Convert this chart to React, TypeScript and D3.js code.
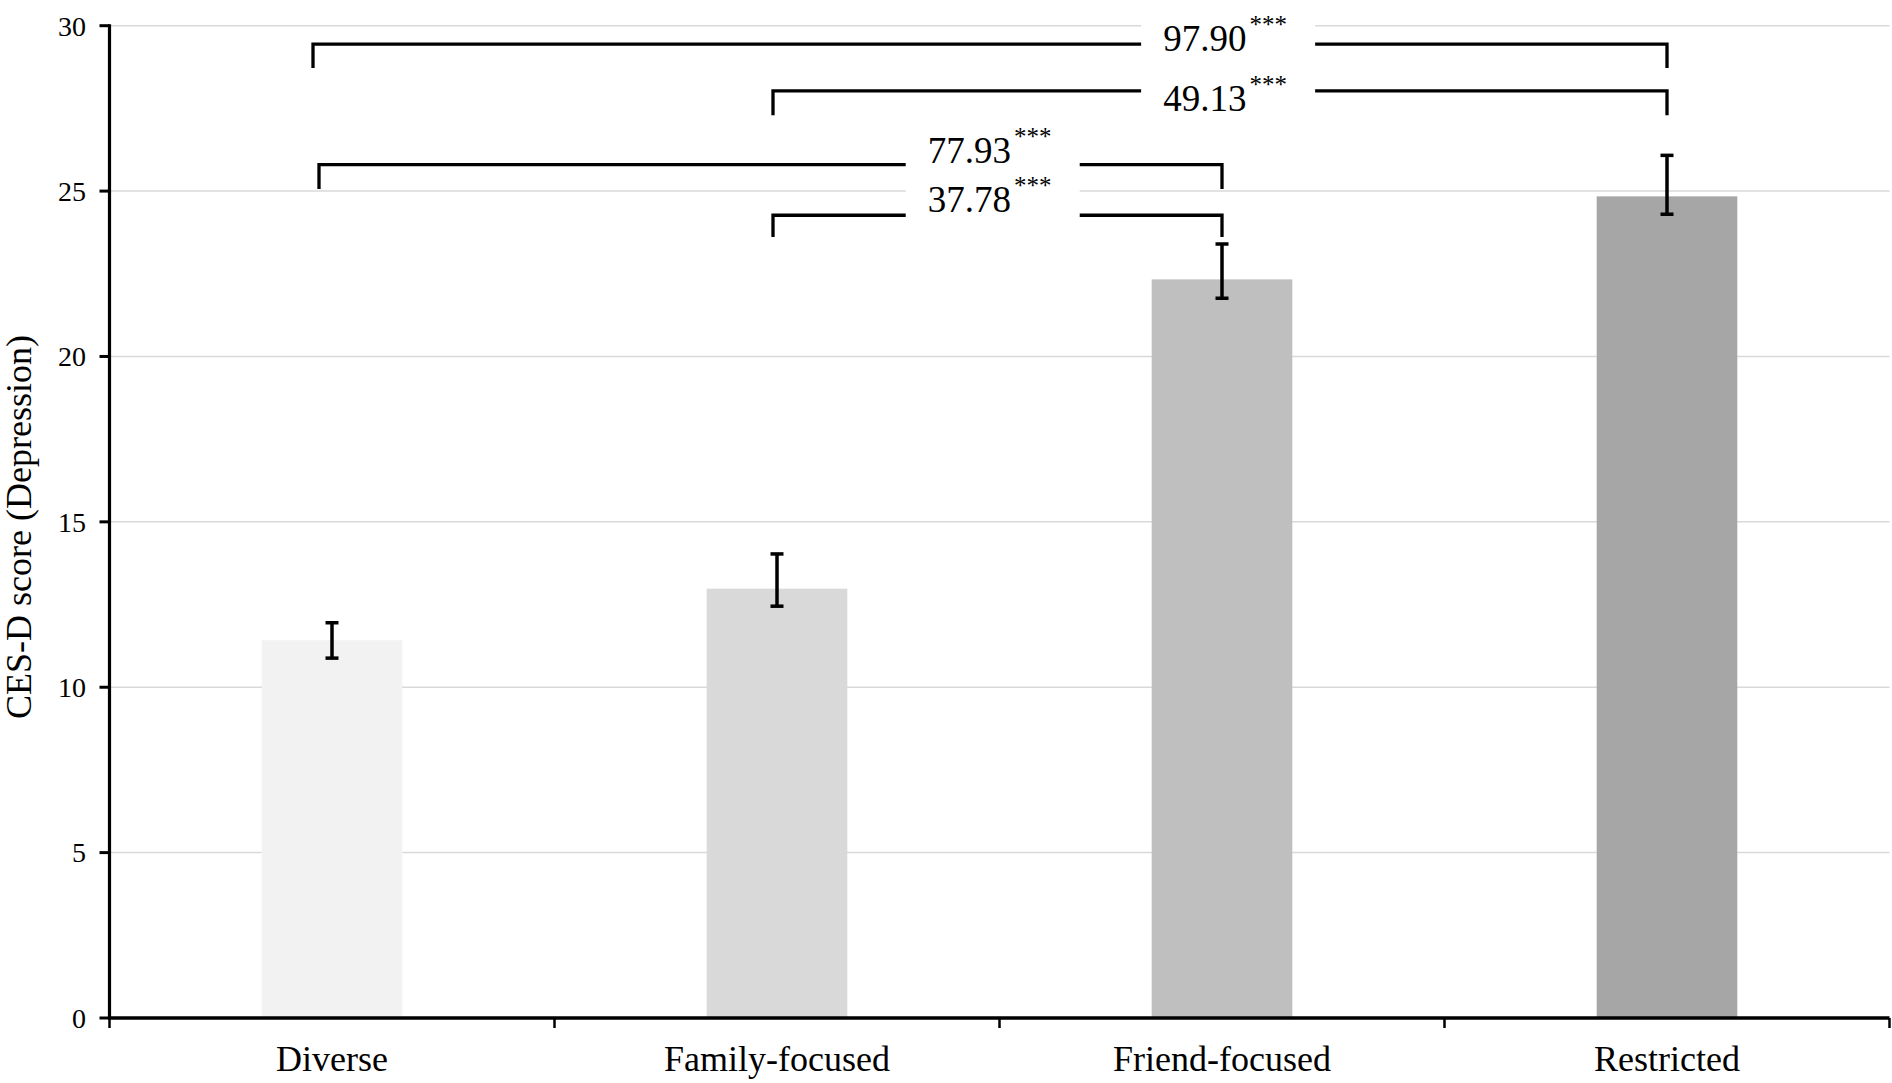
import React from "react"
import * as d3 from "d3"

// CES-D scores by network type
const categories = ["Diverse", "Family-focused", "Friend-focused", "Restricted"]
const means = [11.42, 12.98, 22.33, 24.84]
const ciUpper = [11.95, 14.03, 23.4, 26.08]
const ciLower = [10.88, 12.45, 21.76, 24.3]
const yTicks = [0, 5, 10, 15, 20, 25, 30]

// pairwise comparisons drawn as brackets above the bars
const compFrom = [0, 1, 0, 1]
const compTo = [3, 3, 2, 2]
const compLabels = ["97.90", "49.13", "77.93", "37.78"]
const compSig = ["***", "***", "***", "***"]
const compTop = [29.44, 28.03, 25.8, 24.27]
const compLegEnd = [28.72, 27.29, 25.06, 23.61]

const barFill = ["#f2f2f2", "#d9d9d9", "#bfbfbf", "#a6a6a6"]
const FONT = "'Liberation Serif', 'Times New Roman', serif"

export default function App() {
  const W = 1892
  const H = 1083
  const left = 109.5
  const right = 1889.5
  const top = 25.7
  const bottom = 1018

  const x = d3.scaleBand<string>()
    .domain(categories)
    .range([left, right])
    .paddingInner(0.684)
    .paddingOuter(0.342)
  const xCat = d3.scaleBand<string>().domain(categories).range([left, right]).padding(0)
  const y = d3.scaleLinear().domain([0, 30]).range([bottom, top])

  const cx = (i: number) => (x(categories[i]) ?? 0) + x.bandwidth() / 2
  // position between category centres, e.g. 1.5 = halfway between 2nd and 3rd
  const at = (p: number) => left + xCat.step() * (p + 0.5)

  // label placement / leg nudges per bracket (layout only)
  const labelPos = [2.007, 2.007, 1.478, 1.478]
  const labelDy = [7, 20, -2, -3]
  const leftNudge = [-19, -4, -13, -4]
  const capW = 13

  const xTickPos = [...categories.map(c => xCat(c) ?? 0), right]

  return (
    <svg
      width={W}
      height={H}
      style={{ position: "absolute", left: 0, top: 0, background: "#fff" }}
    >
      {/* gridlines */}
      {yTicks.filter(t => t > 0).map(t => (
        <line key={t} x1={left} x2={right} y1={y(t)} y2={y(t)} stroke="#d9d9d9" strokeWidth={1.5} />
      ))}

      {/* bars */}
      {categories.map((c, i) => (
        <rect
          key={c}
          x={x(c)}
          width={x.bandwidth()}
          y={y(means[i])}
          height={y(0) - y(means[i])}
          fill={barFill[i]}
        />
      ))}

      {/* error bars */}
      {categories.map((c, i) => (
        <g key={c} stroke="#000" strokeWidth={3.5}>
          <line x1={cx(i)} x2={cx(i)} y1={y(ciUpper[i])} y2={y(ciLower[i])} />
          <line x1={cx(i) - capW / 2} x2={cx(i) + capW / 2} y1={y(ciUpper[i])} y2={y(ciUpper[i])} />
          <line x1={cx(i) - capW / 2} x2={cx(i) + capW / 2} y1={y(ciLower[i])} y2={y(ciLower[i])} />
        </g>
      ))}

      {/* comparison brackets */}
      {compLabels.map((lab, k) => {
        const x1 = cx(compFrom[k]) + leftNudge[k]
        const x2 = cx(compTo[k])
        const yt = y(compTop[k])
        const yb = y(compLegEnd[k])
        const lx = at(labelPos[k])
        return (
          <g key={lab}>
            <path
              d={`M${x1},${yb}V${yt}H${x2}V${yb}`}
              fill="none"
              stroke="#000"
              strokeWidth={3.3}
              strokeLinejoin="miter"
            />
            <rect x={lx - 84} y={yt + labelDy[k] - 33} width={174} height={41} fill="#fff" />
            <text x={lx} y={yt + labelDy[k]} textAnchor="middle" fontSize={37} fill="#000" fontFamily={FONT}>
              {lab}
              <tspan dx={3} dy={-18} fontSize={25}>{compSig[k]}</tspan>
            </text>
          </g>
        )
      })}

      {/* y axis */}
      <line x1={left} x2={left} y1={top - 1.5} y2={bottom} stroke="#000" strokeWidth={3.2} />
      {yTicks.map(t => (
        <g key={t}>
          <line x1={left - 10} x2={left} y1={y(t)} y2={y(t)} stroke="#000" strokeWidth={3} />
          <text x={86} y={y(t)} dy="0.35em" textAnchor="end" fontSize={28} fill="#000" fontFamily={FONT}>
            {t}
          </text>
        </g>
      ))}
      <text
        transform={`translate(31,527) rotate(-90)`}
        textAnchor="middle"
        fontSize={36}
        fill="#000"
        fontFamily={FONT}
      >
        CES-D score (Depression)
      </text>

      {/* x axis */}
      <line x1={left - 1.5} x2={right} y1={bottom} y2={bottom} stroke="#000" strokeWidth={3.4} />
      {xTickPos.map((p, i) => (
        <line key={i} x1={p} x2={p} y1={bottom} y2={bottom + 10} stroke="#000" strokeWidth={2.5} />
      ))}
      {categories.map((c, i) => (
        <text key={c} x={cx(i)} y={1071} textAnchor="middle" fontSize={36} fill="#000" fontFamily={FONT}>
          {c}
        </text>
      ))}
    </svg>
  )
}
